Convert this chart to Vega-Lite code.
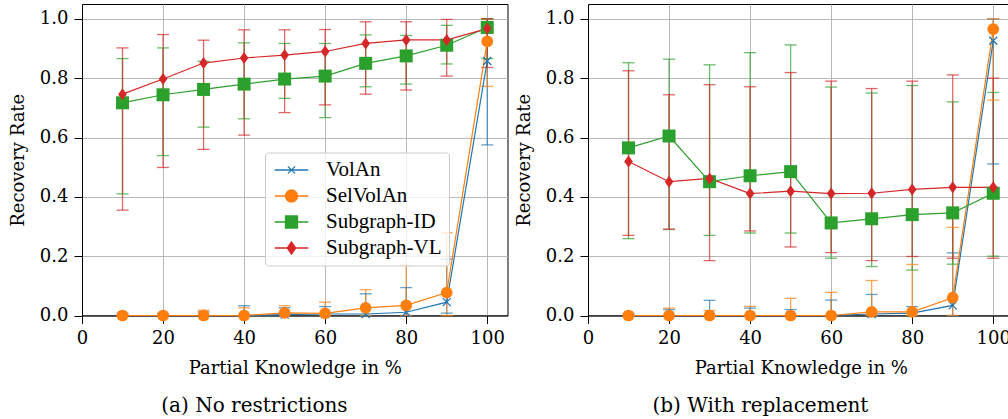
{
  "$schema": "https://vega.github.io/schema/vega-lite/v6.json",
  "padding": {"left": 8, "top": 3, "right": 0, "bottom": 0},
  "spacing": 80,
  "bounds": "flush",
  "config": {
    "view": {"stroke": "#000000", "strokeWidth": 1},
    "axis": {
      "grid": true, "gridColor": "#b8b8b8", "gridWidth": 1,
      "domainColor": "#000000", "domainWidth": 1,
      "tickColor": "#000000", "tickSize": 8, "tickWidth": 1,
      "labelFont": "DejaVu Serif", "labelFontSize": 18, "labelColor": "#000000",
      "titleFont": "DejaVu Serif", "titleFontSize": 18, "titleFontWeight": "normal", "titleColor": "#000000"
    },
    "legend": {"labelFont": "Liberation Serif"},
    "title": {"font": "DejaVu Serif", "fontSize": 20, "fontWeight": "normal", "color": "#000000"}
  },
  "datasets": {
    "d": [
      {"p": "a", "s": "VolAn", "x": 10, "y": 0, "lo": 0, "hi": 0.008},
      {"p": "a", "s": "VolAn", "x": 20, "y": 0, "lo": 0, "hi": 0.007},
      {"p": "a", "s": "VolAn", "x": 30, "y": 0, "lo": 0, "hi": 0.012},
      {"p": "a", "s": "VolAn", "x": 40, "y": 0, "lo": 0, "hi": 0.033},
      {"p": "a", "s": "VolAn", "x": 50, "y": 0.003, "lo": 0, "hi": 0.026},
      {"p": "a", "s": "VolAn", "x": 60, "y": 0.005, "lo": 0, "hi": 0.03},
      {"p": "a", "s": "VolAn", "x": 70, "y": 0.005, "lo": 0, "hi": 0.073},
      {"p": "a", "s": "VolAn", "x": 80, "y": 0.011, "lo": 0, "hi": 0.094},
      {"p": "a", "s": "VolAn", "x": 90, "y": 0.045, "lo": 0.008, "hi": 0.19},
      {"p": "a", "s": "VolAn", "x": 100, "y": 0.858, "lo": 0.575, "hi": 1.0},
      {"p": "a", "s": "SelVolAn", "x": 10, "y": 0, "lo": 0, "hi": 0.005},
      {"p": "a", "s": "SelVolAn", "x": 20, "y": 0, "lo": 0, "hi": 0.005},
      {"p": "a", "s": "SelVolAn", "x": 30, "y": 0, "lo": 0, "hi": 0.018},
      {"p": "a", "s": "SelVolAn", "x": 40, "y": 0, "lo": 0, "hi": 0.026},
      {"p": "a", "s": "SelVolAn", "x": 50, "y": 0.009, "lo": 0, "hi": 0.033},
      {"p": "a", "s": "SelVolAn", "x": 60, "y": 0.007, "lo": 0, "hi": 0.045},
      {"p": "a", "s": "SelVolAn", "x": 70, "y": 0.026, "lo": 0, "hi": 0.087},
      {"p": "a", "s": "SelVolAn", "x": 80, "y": 0.034, "lo": 0, "hi": 0.169},
      {"p": "a", "s": "SelVolAn", "x": 90, "y": 0.077, "lo": 0, "hi": 0.279},
      {"p": "a", "s": "SelVolAn", "x": 100, "y": 0.924, "lo": 0.772, "hi": 1.0},
      {"p": "a", "s": "Subgraph-ID", "x": 10, "y": 0.717, "lo": 0.41, "hi": 0.866},
      {"p": "a", "s": "Subgraph-ID", "x": 20, "y": 0.744, "lo": 0.539, "hi": 0.902},
      {"p": "a", "s": "Subgraph-ID", "x": 30, "y": 0.762, "lo": 0.635, "hi": 0.857},
      {"p": "a", "s": "Subgraph-ID", "x": 40, "y": 0.78, "lo": 0.663, "hi": 0.919},
      {"p": "a", "s": "Subgraph-ID", "x": 50, "y": 0.797, "lo": 0.732, "hi": 0.917},
      {"p": "a", "s": "Subgraph-ID", "x": 60, "y": 0.807, "lo": 0.667, "hi": 0.917},
      {"p": "a", "s": "Subgraph-ID", "x": 70, "y": 0.85, "lo": 0.771, "hi": 0.946},
      {"p": "a", "s": "Subgraph-ID", "x": 80, "y": 0.875, "lo": 0.78, "hi": 0.944},
      {"p": "a", "s": "Subgraph-ID", "x": 90, "y": 0.911, "lo": 0.848, "hi": 0.978},
      {"p": "a", "s": "Subgraph-ID", "x": 100, "y": 0.971, "lo": 0.866, "hi": 1.0},
      {"p": "a", "s": "Subgraph-VL", "x": 10, "y": 0.746, "lo": 0.355, "hi": 0.902},
      {"p": "a", "s": "Subgraph-VL", "x": 20, "y": 0.797, "lo": 0.499, "hi": 0.947},
      {"p": "a", "s": "Subgraph-VL", "x": 30, "y": 0.851, "lo": 0.56, "hi": 0.928},
      {"p": "a", "s": "Subgraph-VL", "x": 40, "y": 0.868, "lo": 0.608, "hi": 0.963},
      {"p": "a", "s": "Subgraph-VL", "x": 50, "y": 0.878, "lo": 0.684, "hi": 0.963},
      {"p": "a", "s": "Subgraph-VL", "x": 60, "y": 0.89, "lo": 0.71, "hi": 0.964},
      {"p": "a", "s": "Subgraph-VL", "x": 70, "y": 0.917, "lo": 0.746, "hi": 0.99},
      {"p": "a", "s": "Subgraph-VL", "x": 80, "y": 0.929, "lo": 0.76, "hi": 0.99},
      {"p": "a", "s": "Subgraph-VL", "x": 90, "y": 0.929, "lo": 0.807, "hi": 0.998},
      {"p": "a", "s": "Subgraph-VL", "x": 100, "y": 0.967, "lo": 0.836, "hi": 1.0},
      {"p": "b", "s": "VolAn", "x": 10, "y": 0, "lo": 0, "hi": 0.007},
      {"p": "b", "s": "VolAn", "x": 20, "y": 0, "lo": 0, "hi": 0.02},
      {"p": "b", "s": "VolAn", "x": 30, "y": 0, "lo": 0, "hi": 0.051},
      {"p": "b", "s": "VolAn", "x": 40, "y": 0, "lo": 0, "hi": 0.025},
      {"p": "b", "s": "VolAn", "x": 50, "y": 0, "lo": 0, "hi": 0.02},
      {"p": "b", "s": "VolAn", "x": 60, "y": 0, "lo": 0, "hi": 0.052},
      {"p": "b", "s": "VolAn", "x": 70, "y": 0.005, "lo": 0, "hi": 0.071},
      {"p": "b", "s": "VolAn", "x": 80, "y": 0.008, "lo": 0, "hi": 0.03},
      {"p": "b", "s": "VolAn", "x": 90, "y": 0.034, "lo": 0, "hi": 0.211},
      {"p": "b", "s": "VolAn", "x": 100, "y": 0.926, "lo": 0.511, "hi": 1.0},
      {"p": "b", "s": "SelVolAn", "x": 10, "y": 0, "lo": 0, "hi": 0.003},
      {"p": "b", "s": "SelVolAn", "x": 20, "y": 0, "lo": 0, "hi": 0.025},
      {"p": "b", "s": "SelVolAn", "x": 30, "y": 0, "lo": 0, "hi": 0.017},
      {"p": "b", "s": "SelVolAn", "x": 40, "y": 0, "lo": 0, "hi": 0.031},
      {"p": "b", "s": "SelVolAn", "x": 50, "y": 0, "lo": 0, "hi": 0.058},
      {"p": "b", "s": "SelVolAn", "x": 60, "y": 0, "lo": 0, "hi": 0.078},
      {"p": "b", "s": "SelVolAn", "x": 70, "y": 0.012, "lo": 0, "hi": 0.118},
      {"p": "b", "s": "SelVolAn", "x": 80, "y": 0.012, "lo": 0, "hi": 0.172},
      {"p": "b", "s": "SelVolAn", "x": 90, "y": 0.06, "lo": 0, "hi": 0.297},
      {"p": "b", "s": "SelVolAn", "x": 100, "y": 0.965, "lo": 0.726, "hi": 1.0},
      {"p": "b", "s": "Subgraph-ID", "x": 10, "y": 0.565, "lo": 0.259, "hi": 0.852},
      {"p": "b", "s": "Subgraph-ID", "x": 20, "y": 0.605, "lo": 0.29, "hi": 0.864},
      {"p": "b", "s": "Subgraph-ID", "x": 30, "y": 0.451, "lo": 0.27, "hi": 0.845},
      {"p": "b", "s": "Subgraph-ID", "x": 40, "y": 0.471, "lo": 0.278, "hi": 0.886},
      {"p": "b", "s": "Subgraph-ID", "x": 50, "y": 0.485, "lo": 0.278, "hi": 0.912},
      {"p": "b", "s": "Subgraph-ID", "x": 60, "y": 0.312, "lo": 0.193, "hi": 0.77},
      {"p": "b", "s": "Subgraph-ID", "x": 70, "y": 0.326, "lo": 0.165, "hi": 0.75},
      {"p": "b", "s": "Subgraph-ID", "x": 80, "y": 0.34, "lo": 0.153, "hi": 0.775},
      {"p": "b", "s": "Subgraph-ID", "x": 90, "y": 0.346, "lo": 0.173, "hi": 0.72},
      {"p": "b", "s": "Subgraph-ID", "x": 100, "y": 0.412, "lo": 0.2, "hi": 0.752},
      {"p": "b", "s": "Subgraph-VL", "x": 10, "y": 0.519, "lo": 0.27, "hi": 0.825},
      {"p": "b", "s": "Subgraph-VL", "x": 20, "y": 0.451, "lo": 0.291, "hi": 0.744},
      {"p": "b", "s": "Subgraph-VL", "x": 30, "y": 0.462, "lo": 0.185, "hi": 0.778},
      {"p": "b", "s": "Subgraph-VL", "x": 40, "y": 0.411, "lo": 0.285, "hi": 0.771},
      {"p": "b", "s": "Subgraph-VL", "x": 50, "y": 0.419, "lo": 0.231, "hi": 0.819},
      {"p": "b", "s": "Subgraph-VL", "x": 60, "y": 0.411, "lo": 0.212, "hi": 0.79},
      {"p": "b", "s": "Subgraph-VL", "x": 70, "y": 0.412, "lo": 0.185, "hi": 0.765},
      {"p": "b", "s": "Subgraph-VL", "x": 80, "y": 0.425, "lo": 0.199, "hi": 0.79},
      {"p": "b", "s": "Subgraph-VL", "x": 90, "y": 0.432, "lo": 0.193, "hi": 0.811},
      {"p": "b", "s": "Subgraph-VL", "x": 100, "y": 0.432, "lo": 0.193, "hi": 0.8}
    ]
  },
  "hconcat": [
    {
      "width": 425.5, "height": 311.5,
      "title": {"text": "(a) No restrictions", "orient": "bottom", "frame": "bounds", "anchor": "middle", "offset": 18, "dx": -4},
      "data": {"name": "d"},
      "transform": [{"filter": "datum.p === 'a'"}],
      "encoding": {
        "x": {"field": "x", "type": "quantitative", "scale": {"domain": [0, 105], "nice": false},
              "axis": {"values": [0, 20, 40, 60, 80, 100], "title": "Partial Knowledge in %", "labelPadding": 6, "titlePadding": 12, "labelFlush": false}},
        "color": {"field": "s", "type": "nominal",
          "scale": {"domain": ["VolAn", "SelVolAn", "Subgraph-ID", "Subgraph-VL"], "range": ["#1f77b4", "#ff7f0e", "#2ca02c", "#d62728"]},
          "legend": {
            "orient": "none", "legendX": 183, "legendY": 148.5, "title": null,
            "symbolSize": 144, "symbolStrokeWidth": 1.3, "symbolOffset": 9, "labelOffset": 24,
            "padding": 7, "rowPadding": 4, "fillColor": "rgba(255,255,255,0.8)", "strokeColor": "#cccccc", "cornerRadius": 3,
            "labelFont": "Liberation Serif", "labelFontSize": 21, "labelColor": "#000000",
            "encode": {"symbols": {"update": {
              "shape": {"signal": "datum.value==='VolAn' ? 'M-2.8,0L2.8,0M-0.6,-0.6L0.6,0.6M-0.6,0.6L0.6,-0.6' : datum.value==='SelVolAn' ? 'M-2.8,0L2.8,0M1,0A1,1,0,1,1,-1,0A1,1,0,1,1,1,0Z' : datum.value==='Subgraph-ID' ? 'M-2.8,0L2.8,0M-1,-1L1,-1L1,1L-1,1Z' : 'M-2.8,0L2.8,0M0,-1L0.7,0L0,1L-0.7,0Z'"},
              "stroke": {"signal": "datum.value==='VolAn' ? '#1f77b4' : datum.value==='SelVolAn' ? '#ff7f0e' : datum.value==='Subgraph-ID' ? '#2ca02c' : '#d62728'"},
              "fill": {"signal": "datum.value==='VolAn' ? 'transparent' : datum.value==='SelVolAn' ? '#ff7f0e' : datum.value==='Subgraph-ID' ? '#2ca02c' : '#d62728'"},
              "strokeWidth": {"value": 1.3},
              "opacity": {"value": 1},
              "size": {"value": 144}
            }}}
          }
        }
      },
      "layer": [
        {"mark": {"type": "rule", "strokeWidth": 1.3, "opacity": 0.7},
         "encoding": {"y": {"field": "lo", "type": "quantitative", "scale": {"domain": [0, 1.05], "nice": false}, "title": "Recovery Rate",
                            "axis": {"values": [0, 0.2, 0.4, 0.6, 0.8, 1.0], "format": ".1f", "labelPadding": 6, "titlePadding": 12}},
                      "y2": {"field": "hi"}}},
        {"mark": {"type": "tick", "orient": "horizontal", "size": 12, "thickness": 1.3, "opacity": 0.7},
         "encoding": {"y": {"field": "lo", "type": "quantitative", "title": "Recovery Rate"}}},
        {"mark": {"type": "tick", "orient": "horizontal", "size": 12, "thickness": 1.3, "opacity": 0.7},
         "encoding": {"y": {"field": "hi", "type": "quantitative", "title": "Recovery Rate"}}},
        {"mark": {"type": "line", "strokeWidth": 1.2},
         "encoding": {"y": {"field": "y", "type": "quantitative", "title": "Recovery Rate"}, "order": {"field": "x"}}},
        {"transform": [{"filter": "datum.s === 'VolAn'"}],
         "mark": {"type": "point", "filled": false, "shape": "M-1,-1L1,1M-1,1L1,-1", "size": 64, "strokeWidth": 1.3, "opacity": 1},
         "encoding": {"y": {"field": "y", "type": "quantitative", "title": "Recovery Rate"}}},
        {"transform": [{"filter": "datum.s === 'SelVolAn'"}],
         "mark": {"type": "point", "filled": true, "shape": "circle", "size": 137, "opacity": 1},
         "encoding": {"y": {"field": "y", "type": "quantitative", "title": "Recovery Rate"}}},
        {"transform": [{"filter": "datum.s === 'Subgraph-ID'"}],
         "mark": {"type": "point", "filled": true, "shape": "square", "size": 169, "opacity": 1},
         "encoding": {"y": {"field": "y", "type": "quantitative", "title": "Recovery Rate"}}},
        {"transform": [{"filter": "datum.s === 'Subgraph-VL'"}],
         "mark": {"type": "point", "filled": true, "shape": "M0,-1L0.72,0L0,1L-0.72,0Z", "size": 144, "opacity": 1},
         "encoding": {"y": {"field": "y", "type": "quantitative", "title": "Recovery Rate"}}}
      ]
    },
    {
      "width": 425.5, "height": 311.5,
      "title": {"text": "(b) With replacement", "orient": "bottom", "frame": "bounds", "anchor": "middle", "offset": 18, "dx": -4},
      "data": {"name": "d"},
      "transform": [{"filter": "datum.p === 'b'"}],
      "encoding": {
        "x": {"field": "x", "type": "quantitative", "scale": {"domain": [0, 105], "nice": false},
              "axis": {"values": [0, 20, 40, 60, 80, 100], "title": "Partial Knowledge in %", "labelPadding": 6, "titlePadding": 12, "labelFlush": false}},
        "color": {"field": "s", "type": "nominal",
          "scale": {"domain": ["VolAn", "SelVolAn", "Subgraph-ID", "Subgraph-VL"], "range": ["#1f77b4", "#ff7f0e", "#2ca02c", "#d62728"]},
          "legend": {
            "orient": "none", "legendX": 235, "legendY": 32.5, "title": null,
            "symbolSize": 144, "symbolStrokeWidth": 1.3, "symbolOffset": 9, "labelOffset": 24,
            "padding": 7, "rowPadding": 4, "fillColor": "rgba(255,255,255,0.8)", "strokeColor": "#cccccc", "cornerRadius": 3,
            "labelFont": "Liberation Serif", "labelFontSize": 21, "labelColor": "#000000",
            "encode": {"symbols": {"update": {
              "shape": {"signal": "datum.value==='VolAn' ? 'M-2.8,0L2.8,0M-0.6,-0.6L0.6,0.6M-0.6,0.6L0.6,-0.6' : datum.value==='SelVolAn' ? 'M-2.8,0L2.8,0M1,0A1,1,0,1,1,-1,0A1,1,0,1,1,1,0Z' : datum.value==='Subgraph-ID' ? 'M-2.8,0L2.8,0M-1,-1L1,-1L1,1L-1,1Z' : 'M-2.8,0L2.8,0M0,-1L0.7,0L0,1L-0.7,0Z'"},
              "stroke": {"signal": "datum.value==='VolAn' ? '#1f77b4' : datum.value==='SelVolAn' ? '#ff7f0e' : datum.value==='Subgraph-ID' ? '#2ca02c' : '#d62728'"},
              "fill": {"signal": "datum.value==='VolAn' ? 'transparent' : datum.value==='SelVolAn' ? '#ff7f0e' : datum.value==='Subgraph-ID' ? '#2ca02c' : '#d62728'"},
              "strokeWidth": {"value": 1.3},
              "opacity": {"value": 1},
              "size": {"value": 144}
            }}}
          }
        }
      },
      "layer": [
        {"mark": {"type": "rule", "strokeWidth": 1.3, "opacity": 0.7},
         "encoding": {"y": {"field": "lo", "type": "quantitative", "scale": {"domain": [0, 1.05], "nice": false}, "title": "Recovery Rate",
                            "axis": {"values": [0, 0.2, 0.4, 0.6, 0.8, 1.0], "format": ".1f", "labelPadding": 6, "titlePadding": 12}},
                      "y2": {"field": "hi"}}},
        {"mark": {"type": "tick", "orient": "horizontal", "size": 12, "thickness": 1.3, "opacity": 0.7},
         "encoding": {"y": {"field": "lo", "type": "quantitative", "title": "Recovery Rate"}}},
        {"mark": {"type": "tick", "orient": "horizontal", "size": 12, "thickness": 1.3, "opacity": 0.7},
         "encoding": {"y": {"field": "hi", "type": "quantitative", "title": "Recovery Rate"}}},
        {"mark": {"type": "line", "strokeWidth": 1.2},
         "encoding": {"y": {"field": "y", "type": "quantitative", "title": "Recovery Rate"}, "order": {"field": "x"}}},
        {"transform": [{"filter": "datum.s === 'VolAn'"}],
         "mark": {"type": "point", "filled": false, "shape": "M-1,-1L1,1M-1,1L1,-1", "size": 64, "strokeWidth": 1.3, "opacity": 1},
         "encoding": {"y": {"field": "y", "type": "quantitative", "title": "Recovery Rate"}}},
        {"transform": [{"filter": "datum.s === 'SelVolAn'"}],
         "mark": {"type": "point", "filled": true, "shape": "circle", "size": 137, "opacity": 1},
         "encoding": {"y": {"field": "y", "type": "quantitative", "title": "Recovery Rate"}}},
        {"transform": [{"filter": "datum.s === 'Subgraph-ID'"}],
         "mark": {"type": "point", "filled": true, "shape": "square", "size": 169, "opacity": 1},
         "encoding": {"y": {"field": "y", "type": "quantitative", "title": "Recovery Rate"}}},
        {"transform": [{"filter": "datum.s === 'Subgraph-VL'"}],
         "mark": {"type": "point", "filled": true, "shape": "M0,-1L0.72,0L0,1L-0.72,0Z", "size": 144, "opacity": 1},
         "encoding": {"y": {"field": "y", "type": "quantitative", "title": "Recovery Rate"}}}
      ]
    }
  ]
}
